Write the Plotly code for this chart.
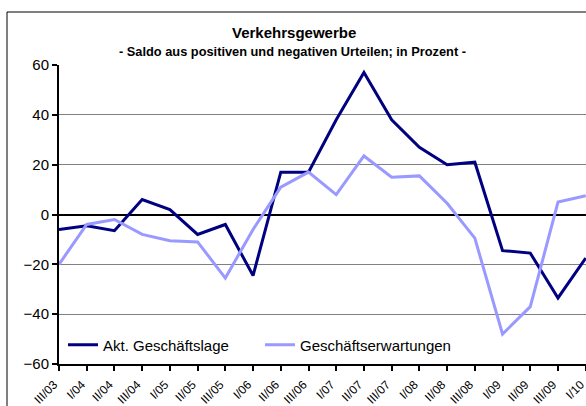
import plotly.graph_objects as go

quarters = ["III/03", "I/04", "II/04", "III/04", "I/05", "II/05", "III/05",
            "I/06", "II/06", "III/06", "I/07", "II/07", "III/07", "I/08",
            "II/08", "III/08", "I/09", "II/09", "III/09", "I/10"]
lage = [-6, -4.5, -6.5, 6, 2, -8, -4, -24.5, 17, 17, 38, 57, 38, 27,
        20, 21, -14.5, -15.5, -33.5, -17.5]
erwartungen = [-20, -4, -2, -8, -10.5, -11, -25.5, -6, 11, 17, 8, 23.5,
               15, 15.5, 4.5, -9.5, -48, -37, 5, 7.5]

W, H = 586, 406
L, R, T, B = 59, 0, 65, 42
pw, ph = W - L - R, H - T - B


def px(x):
    return (x - L) / pw


def py(y):
    return (H - B - y) / ph


font = "Liberation Sans, Arial, sans-serif"

fig = go.Figure()
fig.add_trace(go.Scatter(
    x=list(range(len(quarters))), y=lage, name="Akt. Geschäftslage",
    mode="lines", line=dict(color="#000080", width=3)
))
fig.add_trace(go.Scatter(
    x=list(range(len(quarters))), y=erwartungen, name="Geschäftserwartungen",
    mode="lines", line=dict(color="#9999FF", width=3)
))

fig.update_layout(
    width=W, height=H,
    margin=dict(l=L, r=R, t=T, b=B),
    paper_bgcolor="white", plot_bgcolor="white",
    font=dict(family=font, size=15, color="black"),
    showlegend=True,
    legend=dict(
        orientation="h", x=px(63), y=py(345), xanchor="left", yanchor="middle",
        bgcolor="rgba(0,0,0,0)", font=dict(size=15),
        entrywidth=152, entrywidthmode="pixels", itemwidth=30,
    ),
    annotations=[
        dict(text="<b>Verkehrsgewerbe</b>", x=px(294), y=py(22),
             xref="paper", yref="paper", showarrow=False,
             font=dict(size=15)),
        dict(text="<b>- Saldo aus positiven und negativen Urteilen; in Prozent -</b>",
             x=px(292), y=py(42), xref="paper", yref="paper", showarrow=False,
             font=dict(size=12.8)),
    ],
    shapes=[
        dict(type="line", xref="paper", yref="paper",
             x0=px(7), x1=px(7), y0=py(420), y1=py(12),
             line=dict(color="black", width=1)),
        dict(type="line", xref="paper", yref="paper",
             x0=px(7), x1=px(600), y0=py(12), y1=py(12),
             line=dict(color="black", width=1)),
    ],
)

fig.update_xaxes(
    range=[0, len(quarters) - 1 + 0.01], automargin=False,
    tickmode="array", tickvals=list(range(len(quarters))), ticktext=quarters,
    tickangle=-45, tickfont=dict(size=12), ticklabelstandoff=2,
    ticklabelshift=-5, ticklabeloverflow="allow",
    ticks="outside", ticklen=5, tickwidth=2, tickcolor="black",
    showline=True, linecolor="black", linewidth=2,
    showgrid=False, zeroline=False,
)
fig.update_yaxes(
    range=[-60, 60], automargin=False,
    tickmode="array", tickvals=[-60, -40, -20, 0, 20, 40, 60],
    ticks="outside", ticklen=5, tickwidth=2, tickcolor="black",
    showline=True, linecolor="black", linewidth=2,
    showgrid=True, gridcolor="#808080", gridwidth=1,
    zeroline=True, zerolinecolor="black", zerolinewidth=2,
    tickfont=dict(size=15),
)

# page body has a default margin; drop it so the figure fills the window
fig.write_html(
    "out.html",
    config={"displayModeBar": False},
    post_script="document.body.style.margin='0';document.body.style.overflow='hidden';",
)
